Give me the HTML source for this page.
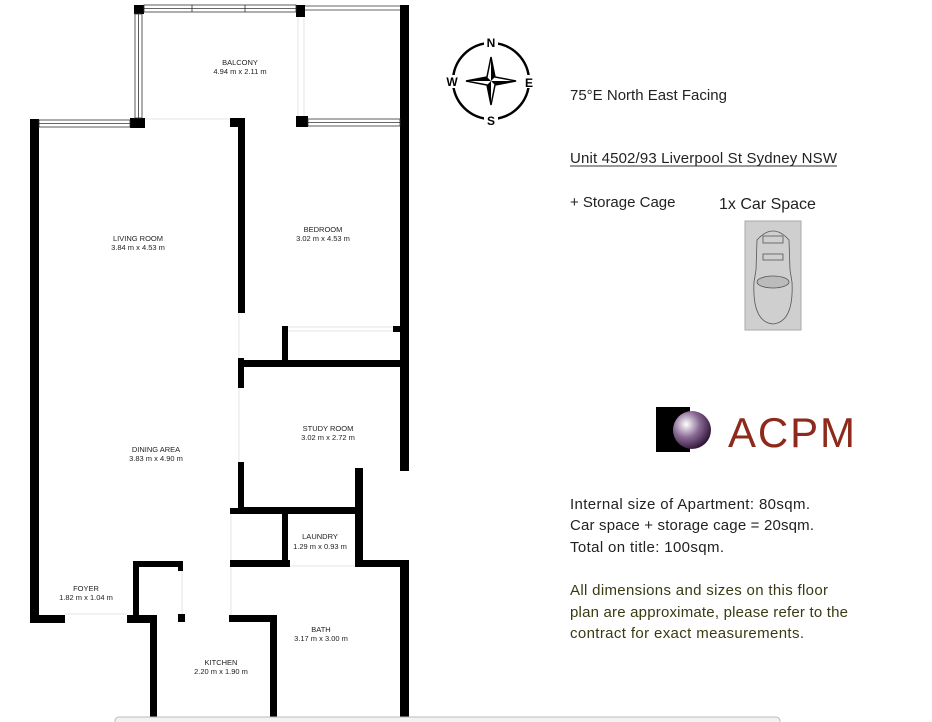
<!DOCTYPE html>
<html><head><meta charset="utf-8"><style>
html,body{margin:0;padding:0;background:#fff;width:932px;height:722px;overflow:hidden}
svg{display:block}
.r{font-family:"Liberation Sans",sans-serif;font-size:7.5px;fill:#222;text-anchor:middle}
.t{font-family:"Liberation Sans",sans-serif;font-size:15px;fill:#222}
.o{fill:#3a3a12}
</style></head><body>
<svg width="932" height="722" viewBox="0 0 932 722" xmlns="http://www.w3.org/2000/svg">
<g fill="#000">
<rect x="30" y="119" width="9" height="504"/>
<rect x="30" y="615" width="35" height="8"/>
<rect x="134" y="5" width="10" height="9"/>
<rect x="296" y="5" width="9" height="12"/>
<rect x="130" y="118" width="15" height="10"/>
<rect x="230" y="118" width="15" height="9"/>
<rect x="296" y="116" width="12" height="11"/>
<rect x="400" y="5" width="9" height="466"/>
<rect x="355" y="468" width="8" height="99"/>
<rect x="355" y="560" width="54" height="7"/>
<rect x="400" y="560" width="9" height="162"/>
<rect x="238" y="118" width="7" height="195"/>
<rect x="238" y="358" width="6" height="30"/>
<rect x="238" y="462" width="6" height="47"/>
<rect x="238" y="360" width="171" height="7"/>
<rect x="282" y="326" width="6" height="36"/>
<rect x="393" y="326" width="8" height="6"/>
<rect x="238" y="507" width="122" height="7"/>
<rect x="230" y="508" width="8" height="6"/>
<rect x="282" y="508" width="6" height="58"/>
<rect x="230" y="560" width="60" height="7"/>
<rect x="133" y="561" width="50" height="6"/>
<rect x="133" y="561" width="6" height="60"/>
<rect x="178" y="561" width="5" height="10"/>
<rect x="127" y="615" width="30" height="8"/>
<rect x="178" y="614" width="7" height="8"/>
<rect x="229" y="615" width="48" height="7"/>
<rect x="150" y="615" width="7" height="107"/>
<rect x="270" y="615" width="7" height="107"/>
</g>
<g fill="none" stroke="#333" stroke-width="0.8">
<rect x="144" y="5" width="152" height="7"/><line x1="144" y1="8.5" x2="296" y2="8.5"/>
<line x1="192" y1="5" x2="192" y2="12"/><line x1="245" y1="5" x2="245" y2="12"/>
<rect x="135" y="14" width="7" height="104"/><line x1="138.5" y1="14" x2="138.5" y2="118"/>
<rect x="39" y="120" width="91" height="7"/><line x1="39" y1="123.5" x2="130" y2="123.5"/>
<rect x="308" y="119" width="92" height="7"/><line x1="308" y1="122.5" x2="400" y2="122.5"/>
<line x1="305" y1="6" x2="400" y2="6"/><line x1="305" y1="10" x2="400" y2="10"/>
</g>
<g stroke="#ddd" stroke-width="0.8" fill="none">
<line x1="288" y1="327" x2="393" y2="327"/><line x1="288" y1="331" x2="393" y2="331"/>
<line x1="298" y1="17" x2="298" y2="116"/><line x1="304" y1="17" x2="304" y2="116"/>
<line x1="145" y1="119" x2="230" y2="119"/><line x1="65" y1="614" x2="127" y2="614"/>
<line x1="239" y1="313" x2="239" y2="358"/><line x1="239" y1="388" x2="239" y2="462"/>
<line x1="231" y1="514" x2="231" y2="560"/><line x1="231" y1="567" x2="231" y2="615"/>
<line x1="182" y1="571" x2="182" y2="614"/><line x1="290" y1="566" x2="355" y2="566"/>
</g>
<text class="r" x="240" y="65">BALCONY</text><text class="r" x="240" y="74">4.94 m x 2.11 m</text>
<text class="r" x="138" y="241">LIVING ROOM</text><text class="r" x="138" y="250">3.84 m x 4.53 m</text>
<text class="r" x="323" y="232">BEDROOM</text><text class="r" x="323" y="241">3.02 m x 4.53 m</text>
<text class="r" x="328" y="431">STUDY ROOM</text><text class="r" x="328" y="440">3.02 m x 2.72 m</text>
<text class="r" x="156" y="452">DINING AREA</text><text class="r" x="156" y="461">3.83 m x 4.90 m</text>
<text class="r" x="320" y="539">LAUNDRY</text><text class="r" x="320" y="549">1.29 m x 0.93 m</text>
<text class="r" x="86" y="591">FOYER</text><text class="r" x="86" y="600">1.82 m x 1.04 m</text>
<text class="r" x="321" y="632">BATH</text><text class="r" x="321" y="641">3.17 m x 3.00 m</text>
<text class="r" x="221" y="665">KITCHEN</text><text class="r" x="221" y="674">2.20 m x 1.90 m</text>
<rect x="115" y="717" width="665" height="8" rx="4" fill="#f2f2f2" stroke="#bbb" stroke-width="1"/>
<circle cx="491" cy="81" r="38" fill="none" stroke="#000" stroke-width="2.5"/>
<rect x="484" y="36" width="14" height="11" fill="#fff"/><rect x="484" y="114" width="14" height="11" fill="#fff"/>
<rect x="446" y="75" width="12" height="13" fill="#fff"/><rect x="521" y="75" width="12" height="13" fill="#fff"/>
<g font-family="Liberation Sans,sans-serif" font-weight="bold" font-size="12" text-anchor="middle">
<text x="491" y="47">N</text><text x="491" y="125">S</text><text x="452" y="86">W</text><text x="529" y="87">E</text>
</g>
<path d="M491 57 L495 77 L516 81 L495 85 L491 105 L487 85 L466 81 L487 77 Z" fill="#fff" stroke="#000" stroke-width="1.5"/>
<path d="M491 57 L495 77 L491 81 Z M516 81 L495 85 L491 81 Z M491 105 L487 85 L491 81 Z M466 81 L487 77 L491 81 Z" fill="#000"/>
<text class="t" x="570" y="100">75°E  North East Facing</text>
<text class="t" x="570" y="163" textLength="267">Unit 4502/93 Liverpool St Sydney NSW</text>
<line x1="570" y1="166" x2="837" y2="166" stroke="#333" stroke-width="1"/>
<text class="t" x="570" y="207">+ Storage Cage</text>
<text class="t" x="719" y="209" style="font-size:16px">1x Car Space</text>
<rect x="745" y="221" width="56" height="109" fill="#cfcfcf" stroke="#aaa"/>
<g fill="none" stroke="#555" stroke-width="0.8">
<path d="M757 240 Q773 222 789 240 L790 270 L792 282 Q794 322 773 324 Q752 322 754 282 L756 270 Z"/>
<rect x="763" y="236" width="20" height="7"/><rect x="763" y="254" width="20" height="6"/>
<ellipse cx="773" cy="282" rx="16" ry="6" fill="#bbb"/>
</g>
<rect x="656" y="407" width="34" height="45" fill="#000"/>
<defs><radialGradient id="g" cx="0.35" cy="0.35" r="0.7"><stop offset="0" stop-color="#fff"/><stop offset="0.5" stop-color="#8a6a95"/><stop offset="1" stop-color="#2d1335"/></radialGradient></defs>
<circle cx="692" cy="430" r="19" fill="url(#g)"/>
<text x="728" y="447" font-family="Liberation Sans,sans-serif" font-size="42" fill="#8e2a1c" textLength="130" letter-spacing="3">ACPM</text>
<text class="t" x="570" y="509" textLength="240">Internal size of Apartment: 80sqm.</text>
<text class="t" x="570" y="530" textLength="244">Car space + storage cage = 20sqm.</text>
<text class="t" x="570" y="552" textLength="154">Total on title: 100sqm.</text>
<text class="t o" x="570" y="595" textLength="258">All dimensions and sizes on this floor</text>
<text class="t o" x="570" y="617" textLength="278">plan are approximate, please refer to the</text>
<text class="t o" x="570" y="638" textLength="234">contract for exact measurements.</text>
</svg>
</body></html>
